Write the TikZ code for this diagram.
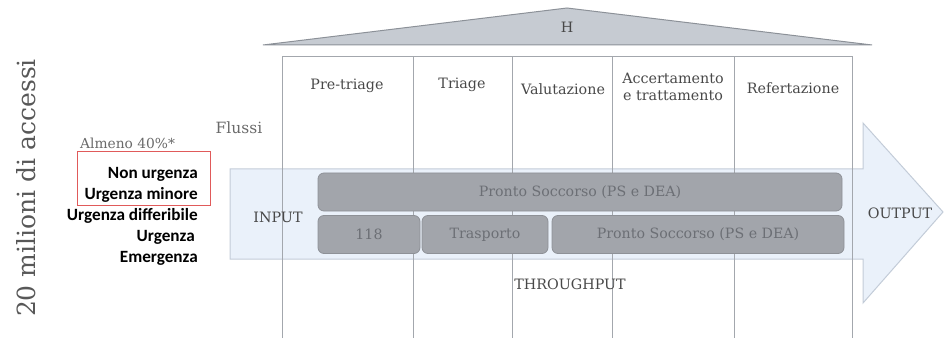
\documentclass[tikz,border=0pt]{standalone}
\usepackage{fontspec}
\setmainfont{DejaVu Serif}
\newfontfamily\boldsans{Carlito}
\definecolor{linegray}{HTML}{A3A7AD}
\definecolor{rooffill}{HTML}{C6CBD2}
\definecolor{roofdraw}{HTML}{8C9198}
\definecolor{arrowfill}{HTML}{EAF1FA}
\definecolor{arrowdraw}{HTML}{C3CCD8}
\definecolor{boxfill}{HTML}{A2A5AB}
\definecolor{boxdraw}{HTML}{8E9197}
\definecolor{boxtext}{HTML}{6C6F75}
\definecolor{hdrtext}{HTML}{484848}
\definecolor{softtext}{HTML}{6A6A6A}
\definecolor{bigtext}{HTML}{585858}
\definecolor{redbox}{HTML}{E05A5A}
\begin{document}
\begin{tikzpicture}[x=1pt,y=-1pt,
  hdr/.style={text=hdrtext,font=\fontsize{14.3}{17}\selectfont,inner sep=0pt},
  pbox/.style={draw=boxdraw,fill=boxfill,rounded corners=6pt,line width=0.8pt,text=boxtext,font=\fontsize{14.2}{16}\selectfont,minimum height=38pt,inner sep=0pt},
  cat/.style={anchor=east,font=\boldsans\bfseries\fontsize{17.2}{19}\selectfont,inner sep=0pt,text=black},
  flow/.style={text=hdrtext,font=\fontsize{14.3}{16}\selectfont,inner sep=0pt},
  bline/.style={draw=linegray,line width=1pt}]
\useasboundingbox (0,0) rectangle (944,339);
% arrow
\draw[fill=arrowfill,draw=arrowdraw,line width=1pt] (230,169) -- (863,169) -- (863,123) -- (943,212) -- (863,303) -- (863,259) -- (230,259) -- cycle;
% roof
\draw[fill=rooffill,draw=roofdraw,line width=1pt] (263,45) -- (567,8) -- (872,45) -- cycle;
\node[hdr] (h) at (567,27) {H};
% building
\draw[bline] (282,338) -- (282,57) -- (852,57) -- (852,338);
\foreach \xx in {413,512,612,734} \draw[bline] (\xx,57) -- (\xx,338);
% headers
\node[hdr] (pre) at (347,86) {Pre-triage};
\node[hdr] (tri) at (462,85) {Triage};
\node[hdr] (val) at (563,89) {Valutazione};
\node[hdr,align=center] (acc) at (673,87) {Accertamento\\e trattamento};
\node[hdr] (ref) at (793,88) {Refertazione};
% boxes
\node[pbox,minimum width=524pt] (ps1) at (580,192) {Pronto Soccorso (PS e DEA)};
\node[pbox,minimum width=102pt] (b118) at (369,234.5) {118};
\node[pbox,minimum width=126pt] (tra) at (485,234.5) {Trasporto};
\node[pbox,minimum width=292pt] (ps2) at (698,234.5) {Pronto Soccorso (PS e DEA)};
% flow labels
\node[flow] (input) at (278,217) {INPUT};
\node[flow] (output) at (900,213) {OUTPUT};
\node[flow] (thr) at (570,284) {THROUGHPUT};
\node[hdr,text=softtext,font=\fontsize{15.5}{17}\selectfont] (flussi) at (239,128) {Flussi};
% left side
\node[hdr,anchor=west,text=softtext,font=\fontsize{13.8}{16}\selectfont] (alm) at (80,143) {Almeno 40\%*};
\draw[draw=redbox,line width=1pt] (77,152) rectangle (210,205);
\node[cat] (c1) at (198,174) {Non urgenza};
\node[cat] (c2) at (198,195) {Urgenza minore};
\node[cat] (c3) at (198,216) {Urgenza differibile};
\node[cat] (c4) at (195,237) {Urgenza};
\node[cat] (c5) at (198,258) {Emergenza};
\node[rotate=90,text=bigtext,font=\fontsize{25}{27}\selectfont,inner sep=0pt] (tot) at (26,188) {20 milioni di accessi};
\end{tikzpicture}
\end{document}
